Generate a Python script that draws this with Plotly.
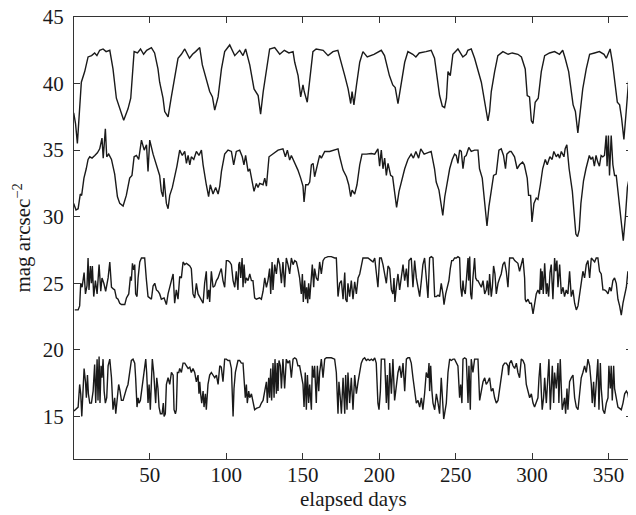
import plotly.graph_objects as go

# Series A (top, ~37-43)
days_a = [0.3,1.5,2.7,4.0,5.3,7.5,9.7,12,14,15.5,17.3,19.5,21.5,23.9,26.0,28.2,30.4,33.0,35.8,37.6,39.8,42,44,46,48,51.1,53.2,55.4,56.5,58.7,59.8,62,64,66.3,68.5,70.7,72.9,76,78,80,82.7,84.4,87,89.2,91,92.5,94.7,96.9,99,102.3,105.6,108.8,111,112.7,115.4,118.2,120.9,122.5,124.2,126.3,128.4,131.7,135,138,141,143.7,144.8,147,148.7,150.2,151,153,154.4,156.7,158.8,163.4,166.6,169.8,173,175.3,177.5,179.7,181.4,182.3,183.5,185.2,187.3,189.4,192.2,196.6,201.4,203.5,206.7,208.9,210.5,212.3,214.5,216.7,218.8,222,224,226.2,230.6,234,236.2,237.8,239.5,241.3,242.8,244,245,246.5,248.2,251.5,254.7,256.9,258,260.2,262.4,266.8,269,271.1,272.2,273.3,275.5,277.6,280.9,284.3,287,290.7,293,295.5,296.8,298.3,299.5,300.6,302,304,306,308.2,311.4,314.7,317.9,320,321.6,323.9,326.8,328.3,329.9,331.6,333.1,335.4,337.6,340.8,344,347,348.5,351,352.5,355.7,357.2,358.5,360,361.5,363,365]
mag_a = [37.8,37.0,35.5,38.0,40.1,40.9,42.0,42.1,42.3,42.1,42.5,42.6,42.4,42.5,41.1,38.9,38.1,37.25,38.1,38.9,42.4,42.3,42.6,42.2,42.5,42.7,42.3,41.1,40.1,38.9,37.9,37.5,38.9,40.4,41.9,42.2,42.6,41.9,42.2,42.4,42.7,41.4,40.4,39.4,39.0,38.0,39.0,41.1,42.4,42.9,42.1,42.5,42.1,42.6,41.4,39.6,39.1,37.7,39.4,40.9,42.6,42.7,42.2,42.5,42.3,42.4,41.6,40.6,39.0,39.9,39.4,38.6,40.1,42.4,42.6,42.5,42.1,42.4,42.5,41.6,40.6,39.6,38.5,39.4,38.4,39.9,41.6,42.4,42.0,42.2,42.5,42.1,40.6,39.9,39.7,38.5,40.1,41.6,42.4,42.2,42.0,42.3,42.4,42.5,41.9,40.6,39.1,38.3,38.2,38.9,40.9,40.6,42.2,42.6,42.0,42.2,42.5,42.6,41.9,40.1,38.6,37.2,37.9,39.4,40.9,42.1,42.4,42.2,42.3,42.2,42.0,41.1,39.1,39.0,37.2,37.0,38.6,38.9,40.9,42.1,42.3,42.4,42.2,42.5,41.9,40.9,38.4,37.9,36.3,37.9,39.6,41.1,42.2,42.3,42.4,42.2,41.9,42.6,41.6,38.6,38.4,37.4,35.8,37.9,40.1,41.5]

# Series B (second, ~28-36.5)
days_b = [0.3,1.8,3.2,4.6,5.5,7.0,8.5,9.7,10.8,12.3,14.1,15.8,17.3,18.8,19.6,21.0,21.9,23.2,25.0,27.1,28.9,30.4,32.6,34.7,36.9,38.4,39.8,41.3,42.8,44.6,46.4,47.9,48.9,50.0,52.2,54.3,56.5,57.6,58.7,59.3,60.9,62.0,63.1,64.8,66.3,67.8,69.6,71.3,72.9,74.0,75.1,76.2,77.2,78.8,80.5,82.2,83.8,84.9,87.0,88.5,89.6,91.4,93.1,94.7,95.8,96.9,99.0,101.2,103.4,104.9,106.6,108.8,110.5,111.6,112.7,114.3,115.4,116.5,118.2,119.7,120.8,121.9,124.1,125.2,126.3,128.0,130.6,133.9,137.1,138.7,140.0,141.5,142.6,144.8,146.9,148.7,150.2,150.9,152.0,153.5,154.6,155.7,156.8,157.8,159.6,161.1,162.2,164.4,167.6,170.9,173.1,174.2,176.4,178.6,180.1,181.4,182.3,184.0,185.5,187.3,188.8,191.6,194.9,197.1,199.2,200.3,201.4,202.5,203.6,204.7,205.8,207.5,208.8,209.7,211.4,213.0,214.5,216.7,218.8,220.9,222.4,224.0,225.8,227.2,229.4,231.6,234.0,236.2,237.3,239.1,240.6,241.6,242.9,244.4,246.1,247.8,249.3,250.4,251.5,252.6,253.7,254.8,255.8,256.9,258.6,260.2,262.4,264.6,265.6,267.4,269.0,270.5,271.8,273.3,274.8,276.5,278.3,279.8,281.3,282.6,283.5,285.3,286.3,288.5,290.2,291.8,293.8,294.9,296.8,297.7,299.0,299.9,301.2,302.7,303.8,305.4,306.9,308.6,309.9,311.6,313.1,314.2,315.8,316.9,318.0,319.1,320.8,321.6,322.7,324.2,326.3,327.5,328.6,329.7,330.8,331.9,333.6,335.2,336.3,337.4,338.5,339.6,340.7,341.8,342.9,344.0,345.1,346.2,347.3,348.4,349.0,349.9,350.6,351.7,352.8,353.9,355.0,356.1,357.6,358.7,359.6,361.0,362.3,363.8,365.0]
mag_b = [31.0,30.5,30.6,31.7,31.6,32.9,33.6,34.3,34.5,34.4,34.6,34.8,35.1,35.9,34.4,36.6,34.5,34.7,34.3,33.2,31.5,31.0,30.8,31.6,32.9,33.1,34.5,34.6,34.3,35.75,35.0,35.4,33.4,35.75,34.7,33.9,33.1,31.9,31.5,32.9,31.0,30.6,31.6,32.2,32.9,33.8,35.0,34.6,34.9,34.0,34.6,33.9,34.5,34.3,34.9,34.6,35.0,33.9,32.4,31.5,32.4,31.7,32.2,31.7,32.3,33.4,34.7,35.0,34.9,33.9,34.9,35.0,34.5,33.9,34.6,33.4,33.6,32.9,31.9,32.5,32.2,32.5,32.4,32.9,32.3,34.5,34.7,35.0,35.1,34.5,35.0,34.25,34.6,34.1,33.5,32.9,32.3,31.1,32.4,32.4,32.6,33.9,34.0,33.0,33.9,34.6,34.4,34.9,34.9,35.0,35.1,34.5,33.5,33.0,32.4,31.5,32.0,31.7,32.4,33.9,34.7,34.7,34.75,34.7,35.1,33.8,35.0,33.6,34.4,33.1,34.0,33.1,33.0,32.2,30.7,31.9,32.6,33.6,34.3,34.7,34.4,34.9,34.4,35.1,34.7,34.8,34.9,33.6,32.6,32.0,30.6,30.1,31.5,32.6,33.6,34.3,34.7,34.6,34.0,35.0,34.9,33.6,34.5,34.6,35.2,34.9,35.0,35.0,33.6,32.9,31.0,29.3,30.8,31.9,33.1,33.2,35.0,35.1,34.6,33.6,34.7,34.9,34.9,34.5,33.6,33.9,34.1,33.9,32.9,31.6,31.6,29.6,31.0,31.4,31.3,32.4,33.6,34.3,33.9,34.5,34.3,34.9,34.5,34.7,34.4,34.9,34.5,35.1,35.4,33.6,31.9,30.2,28.7,28.5,29.0,31.0,32.7,33.6,34.1,34.6,34.3,34.5,33.8,34.6,34.1,33.8,34.6,34.5,34.6,36.1,33.8,36.1,33.1,36.1,33.9,33.1,33.1,31.9,30.4,29.0,28.2,30.0,32.2,33.1,33.9]

# Series C (third, ~22.5-27)
days_c = [1.0,3.2,4.2,4.9,5.8,7.1,8.0,9.0,9.7,10.3,11.2,11.9,12.5,13.4,14.5,15.6,16.9,18.0,18.8,20.0,21.2,22.8,23.9,25.0,26.0,27.1,28.2,29.3,30.4,31.5,33.7,34.8,36.3,37.4,38.0,38.7,39.5,40.2,40.8,41.7,42.4,43.5,44.6,46.7,47.8,48.9,50.0,51.1,52.2,53.3,54.4,55.4,56.5,57.6,59.4,
          60.9,62.0,63.1,64.2,65.3,66.3,67.4,68.5,69.6,70.7,71.8,72.9,74.0,75.1,76.2,77.2,78.3,79.4,80.5,81.6,82.7,83.8,84.9,85.9,87.0,87.7,88.6,89.2,90.3,91.4,92.5,93.6,94.7,95.8,96.8,97.9,99.0,100.1,101.2,102.3,103.4,104.5,105.6,106.6,107.7,108.2,108.8,109.5,110.4,111.0,111.7,112.5,113.2,114.3,115.4,116.5,117.5,118.6,119.7,121.9,123.0,124.1,125.2,126.3,127.3,128.4,129.1,130.0,130.6,131.7,132.8,
          133.9,135.0,136.1,137.1,138.2,139.3,140.4,141.5,142.6,143.7,144.8,145.9,146.9,148.0,149.1,149.8,150.4,151.3,152.0,152.6,153.3,153.9,154.6,155.7,156.3,157.2,157.8,158.9,160.0,161.1,162.2,163.3,164.4,166.6,168.7,170.9,172.0,173.1,174.2,175.3,176.4,177.5,178.1,179.0,179.6,180.7,181.8,182.9,184.0,185.1,186.2,187.3,188.3,189.4,190.5,192.7,194.9,196.0,197.1,198.1,199.2,200.3,201.4,202.5,203.6,204.7,205.8,206.9,208.0,209.0,
          209.7,210.3,211.2,212.3,213.4,214.5,215.6,216.7,217.8,218.8,219.5,221.0,222.1,223.2,224.3,225.4,226.5,227.6,228.6,229.7,230.8,231.9,233.0,234.1,235.2,236.3,237.4,238.5,239.5,240.6,241.7,242.4,243.5,244.3,245.6,246.5,247.4,248.3,249.3,250.4,251.5,252.6,253.3,254.1,254.8,255.4,256.3,257.0,258.1,258.5,259.2,259.8,260.5,261.3,262.4,263.1,264.0,264.6,265.7,266.8,267.9,269.0,270.0,270.7,271.6,272.2,273.3,274.0,274.8,275.7,276.6,277.7,278.8,279.8,280.9,282.0,283.1,284.2,
          285.3,286.4,287.5,288.6,289.7,290.7,291.8,292.9,294.0,295.1,295.5,296.2,297.3,298.4,299.5,300.6,301.6,302.7,303.8,304.9,305.6,306.0,306.6,307.3,308.2,309.3,309.9,310.8,311.7,312.5,313.6,314.7,315.4,316.2,316.9,318.0,319.1,320.2,321.2,322.3,323.4,324.5,325.6,326.7,327.8,328.9,330.0,331.1,332.1,333.2,334.3,335.4,336.5,337.6,338.7,339.8,340.9,341.9,343.0,344.1,345.2,346.3,347.4,348.5,349.6,350.7,351.7,352.8,353.9,355.0,356.1,357.2,358.3,359.4,360.5,361.6,362.6,363.3,364.2,364.8]
mag_c = [23.0,23.0,23.3,25.0,24.7,25.8,24.2,24.8,26.9,24.5,26.3,25.0,26.3,24.0,25.2,24.2,26.4,24.4,25.4,25.0,24.4,25.4,26.6,24.7,24.6,24.5,23.9,23.8,23.5,23.4,23.4,23.9,24.2,25.5,25.2,26.5,26.0,26.4,24.2,24.0,25.4,26.6,26.9,26.9,25.3,24.0,23.9,23.8,24.8,25.0,24.5,24.4,24.2,23.8,23.9,
         23.4,24.2,24.7,25.4,25.7,23.5,24.5,23.8,25.5,25.4,26.6,26.4,26.5,26.4,26.3,26.1,24.2,23.9,25.0,24.2,24.0,23.8,23.5,25.0,25.9,23.8,24.5,23.6,25.9,24.7,24.8,25.2,25.4,25.8,26.1,25.2,24.7,26.7,26.7,26.6,26.4,25.2,24.7,25.9,24.5,26.4,26.6,25.4,26.9,24.7,26.4,25.0,25.4,25.2,25.7,25.2,25.2,23.9,23.8,23.9,23.8,24.4,25.4,24.7,25.2,26.1,24.2,26.6,24.5,26.4,25.7,
         26.9,26.4,25.0,26.6,24.7,26.9,26.4,25.7,26.9,26.4,26.7,26.6,26.1,25.4,24.2,25.7,23.6,25.2,23.8,24.7,23.5,25.0,23.8,25.7,26.4,24.7,26.1,25.4,25.2,26.6,25.7,26.7,26.9,27.0,27.0,26.9,26.9,24.0,25.0,25.2,23.8,25.8,23.8,23.6,25.0,24.0,25.2,23.8,25.1,24.2,25.4,25.7,26.3,26.9,26.9,26.9,26.7,26.6,26.9,26.0,24.7,26.9,26.9,26.4,25.7,25.0,26.3,26.1,24.5,24.2,
         25.4,23.6,24.7,25.7,24.5,25.4,26.4,25.2,26.1,24.7,26.7,26.9,24.7,26.7,25.4,24.7,24.0,25.2,26.4,26.9,25.0,23.9,26.9,27.0,26.9,24.0,24.0,24.1,24.0,25.0,24.2,23.4,24.2,24.7,25.2,26.1,26.7,26.7,26.9,26.9,27.0,26.9,24.7,24.0,25.2,24.5,24.2,25.2,26.9,25.2,27.0,24.2,23.8,25.4,26.9,25.4,25.2,25.2,25.0,24.7,25.2,24.2,24.5,25.2,24.1,25.7,24.0,24.7,26.3,25.7,24.2,25.0,25.4,25.7,26.4,26.6,25.9,24.7,
         26.9,26.9,26.9,26.7,26.6,26.5,25.9,26.4,26.9,25.4,23.8,23.6,23.8,23.5,23.5,22.7,23.6,24.2,24.5,24.2,26.1,24.5,25.9,24.2,26.5,24.2,25.0,24.0,25.8,26.4,23.8,26.9,25.9,26.7,24.7,26.4,24.2,24.7,24.0,24.5,24.2,25.9,24.0,24.5,23.5,23.0,23.3,24.2,25.0,25.9,25.4,26.4,26.7,25.4,26.9,26.7,26.6,26.9,26.9,25.9,25.7,24.5,24.5,24.4,24.2,24.7,24.4,25.2,25.4,25.0,23.8,23.3,22.6,23.5,24.0,24.7,25.9,25.2,26.5,25.1]

# Series D (bottom, ~14.8-19.5)
days_d = [0.5,2.1,3.2,4.2,4.9,5.6,6.2,7.1,8.0,8.6,9.3,9.9,10.8,11.9,13.0,14.0,14.7,15.6,16.2,16.9,17.5,18.2,18.8,19.5,20.2,21.0,21.9,22.8,23.9,25.0,26.0,27.1,27.8,28.9,29.7,30.6,31.5,32.6,33.7,34.8,35.8,36.9,38.0,39.1,40.2,40.8,41.7,42.4,43.0,43.9,44.6,45.6,46.7,47.4,48.0,48.9,49.6,50.4,51.1,51.7,52.6,53.3,53.9,54.6,55.4,56.1,57.0,58.1,58.9,59.4,
          60.2,60.9,62.0,63.1,64.2,65.3,65.9,66.8,67.4,68.1,69.0,69.6,70.7,71.8,72.9,74.0,75.1,76.2,77.2,78.3,79.4,80.5,81.6,82.2,82.7,83.3,84.0,84.9,85.5,86.4,87.0,88.1,89.2,90.3,91.4,92.5,93.6,94.7,95.8,96.8,97.9,99.0,100.1,101.2,102.3,103.4,104.5,105.1,106.0,106.6,107.7,108.8,109.9,111.0,111.7,112.5,113.2,113.8,114.7,115.4,116.5,117.5,118.6,119.7,121.9,123.0,124.1,125.2,126.3,126.9,127.8,128.4,129.1,129.7,130.6,131.3,131.9,132.8,133.4,
          133.9,134.5,135.4,136.1,137.1,138.2,139.3,140.4,141.5,142.6,143.7,144.8,145.9,146.9,148.0,149.1,150.2,150.9,151.7,152.4,153.1,153.9,154.6,155.7,156.3,157.2,157.8,158.9,159.6,160.5,161.1,162.2,163.3,164.4,165.5,166.6,168.7,170.9,172.0,173.1,173.7,174.6,175.3,176.4,177.5,178.1,179.0,179.6,180.7,181.8,182.9,184.0,185.1,186.2,187.3,188.3,189.4,190.5,191.6,192.7,193.8,194.9,196.0,197.1,198.1,199.2,199.9,200.8,201.4,202.5,203.6,204.7,205.3,206.2,206.9,208.0,209.0,
          210.1,211.2,212.3,213.4,214.5,215.6,216.7,217.8,218.8,219.9,221.0,222.1,223.2,224.3,225.4,226.5,227.6,228.6,229.7,230.8,231.9,232.6,233.0,233.7,234.5,235.2,236.3,237.4,238.5,239.5,240.6,241.3,242.2,242.8,243.9,245.0,246.1,247.2,248.3,249.3,250.4,251.5,252.6,253.3,254.1,254.8,255.9,257.0,258.1,258.7,259.6,260.2,261.3,262.4,263.5,264.6,265.7,266.8,267.9,269.0,270.0,271.1,272.2,273.3,274.4,275.5,276.6,277.7,278.8,279.8,280.9,282.0,283.1,284.2,
          284.6,285.3,286.4,287.5,288.6,289.7,290.7,291.8,292.9,294.0,295.1,296.2,297.3,298.4,299.5,300.6,301.6,302.7,303.8,304.5,305.3,306.0,306.6,307.5,308.2,309.3,310.4,311.0,311.9,312.5,313.2,314.1,314.7,315.8,316.9,317.5,318.4,319.1,319.7,320.6,321.2,321.9,322.8,323.4,324.5,325.6,326.7,327.8,328.9,330.0,331.1,332.1,333.2,334.3,335.4,336.5,337.6,338.7,339.3,340.2,340.9,341.9,343.0,343.7,344.6,345.2,346.3,347.4,348.5,349.6,350.2,351.1,351.7,352.4,353.3,353.9,355.0,356.1,357.2,358.3,359.4,360.5,361.6,362.6,363.7,364.4,365.0]
mag_d = [15.4,15.6,15.7,17.4,16.7,15.0,17.1,18.6,17.6,16.4,18.1,16.7,16.0,16.0,16.9,18.9,16.0,19.3,16.2,19.5,16.0,18.8,17.9,19.3,16.9,16.0,16.4,18.8,19.3,17.9,15.5,16.4,15.2,16.4,17.4,16.9,16.2,16.2,16.7,17.1,17.4,18.3,19.2,19.3,19.0,17.9,15.7,16.4,16.0,16.2,16.9,17.9,18.9,19.3,18.3,16.0,17.4,15.5,17.6,19.3,18.3,16.4,16.0,17.9,17.1,15.7,15.2,15.2,16.0,15.0,
         15.2,17.4,17.9,17.4,18.3,18.1,15.5,15.2,15.5,18.3,18.3,18.6,18.3,19.0,19.0,18.8,18.6,18.7,18.3,18.6,18.3,17.6,18.1,16.7,17.6,16.7,16.0,16.9,15.7,16.7,15.5,17.4,18.1,18.3,18.1,17.9,18.1,17.4,18.8,18.7,17.6,19.3,19.3,19.2,19.2,18.6,15.0,17.1,18.3,18.6,19.2,19.2,19.0,19.0,17.9,16.4,17.4,16.0,16.9,16.4,16.7,16.0,15.5,15.6,15.7,16.0,16.2,16.9,17.6,16.0,17.9,16.4,18.6,16.2,19.0,16.4,19.3,16.7,19.0,
         16.9,19.2,18.8,17.1,19.3,17.1,19.3,19.0,19.2,17.9,19.3,19.4,19.3,18.8,18.8,17.9,17.4,15.7,18.3,15.5,18.1,16.0,17.4,15.5,18.8,17.9,18.8,16.0,18.8,16.9,18.3,19.3,17.9,19.3,19.4,19.4,19.4,19.3,18.3,15.2,17.6,16.4,15.2,17.9,15.2,18.1,15.5,18.3,16.0,17.9,15.5,18.1,16.7,17.6,18.3,19.0,19.3,19.4,19.2,19.3,19.2,19.3,19.2,19.4,19.0,16.0,15.5,16.9,19.3,19.3,19.3,16.0,18.1,15.5,19.0,16.7,19.3,
         16.2,17.4,18.3,18.8,17.9,19.0,16.9,19.3,19.4,19.4,19.0,17.9,16.9,16.0,16.2,15.7,16.4,15.5,16.7,18.3,17.9,19.0,16.9,18.8,16.9,16.0,15.5,16.7,16.0,15.2,17.9,16.4,14.8,15.2,16.0,18.3,19.3,19.2,19.3,19.3,19.0,18.8,16.4,17.4,16.0,19.3,19.4,19.3,16.0,18.8,15.5,19.3,18.3,19.3,19.3,19.3,16.2,16.9,17.6,17.9,17.4,17.6,17.9,16.9,17.1,16.4,16.0,16.2,17.1,17.9,18.8,19.0,19.0,18.8,
         18.1,19.0,19.2,18.8,18.6,19.0,18.3,17.9,19.3,19.2,18.9,17.4,16.9,16.4,16.7,16.0,15.7,16.0,16.4,17.9,19.0,16.9,15.5,16.4,17.9,16.0,18.3,19.3,15.5,17.4,18.8,16.0,18.3,17.1,19.0,16.0,19.3,17.1,15.5,16.0,16.4,15.2,17.1,15.5,17.6,17.9,18.1,16.4,15.7,15.5,16.9,17.9,18.3,18.8,18.3,19.3,18.8,17.4,16.0,17.6,15.7,17.9,19.3,15.5,19.0,17.1,15.5,15.2,16.0,16.4,18.8,17.1,18.8,16.2,18.8,17.1,16.4,15.7,15.6,15.5,16.0,16.7,16.9,16.7,16.0,17.4,19.0]

x_ticks = [50, 100, 150, 200, 250, 300, 350]
y_ticks = [15, 20, 25, 30, 35, 40, 45]
x_title = "elapsed days"
y_title = "mag arcsec<sup>−2</sup>"

line_style = dict(color="#1a1a1a", width=1.4)
fig = go.Figure()
for xs, ys in [(days_a, mag_a), (days_b, mag_b), (days_c, mag_c), (days_d, mag_d)]:
    fig.add_trace(go.Scatter(x=xs, y=ys, mode="lines", line=line_style,
                             showlegend=False, hoverinfo="skip"))

serif = "Liberation Serif, Times New Roman, serif"
font = dict(family=serif, size=21, color="#1a1a1a")
axis_common = dict(ticks="inside", ticklen=6, tickcolor="#333", showline=True,
                   linecolor="#333", linewidth=1.2, mirror="ticks", showgrid=False,
                   zeroline=False, automargin=False, tickfont=font,
                   ticklabeloverflow="allow")
# the page body has an 8px default margin, so the figure is sized to fit the window
fig.update_layout(
    width=628, height=507,
    margin=dict(l=66, r=4, t=9, b=56),
    paper_bgcolor="white", plot_bgcolor="white",
    font=font,
    xaxis=dict(range=[0.5, 365.3], tickvals=x_ticks, ticklabelstandoff=-3, **axis_common),
    yaxis=dict(range=[11.8, 45], tickvals=y_ticks, ticklabelstandoff=5, **axis_common),
    annotations=[
        dict(text=x_title, xref="paper", yref="paper", x=0.5, y=-0.09,
             xanchor="center", yanchor="middle", showarrow=False, font=font),
        dict(text=y_title, xref="paper", yref="paper", x=-0.094, y=0.5,
             xanchor="center", yanchor="middle", textangle=-90, showarrow=False, font=font),
    ],
)
fig.write_html("out.html")
